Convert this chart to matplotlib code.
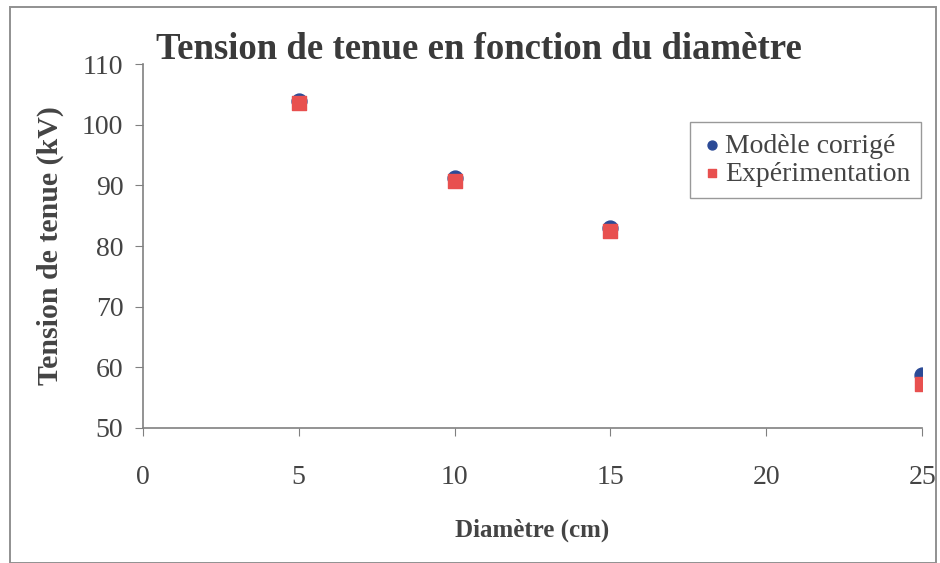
import matplotlib.pyplot as plt
from matplotlib.patches import Rectangle

diametre = [5, 10, 15, 25]
modele_corrige = [104.0, 91.3, 83.0, 58.8]
experimentation = [103.6, 90.8, 82.5, 57.3]

plt.rcParams['font.family'] = ['Liberation Serif', 'DejaVu Serif']

fig = plt.figure(figsize=(9.4, 5.63), dpi=100)
ax = fig.add_axes([0.152, 0.240, 0.829, 0.646])

ax.scatter(diametre, modele_corrige, marker='o', s=115, color='#2B4A96', label='Modèle corrigé', zorder=3)
ax.scatter(diametre, experimentation, marker='s', s=110, color='#E8504F', label='Expérimentation', zorder=4)

ax.set_xlim(0, 25)
ax.set_ylim(50, 110)
ax.set_xticks([0, 5, 10, 15, 20, 25])
ax.set_yticks([50, 60, 70, 80, 90, 100, 110])
for s in ['top', 'right']:
    ax.spines[s].set_visible(False)
for s in ['left', 'bottom']:
    ax.spines[s].set_color('#808080')
    ax.spines[s].set_linewidth(1.2)
ax.tick_params(axis='both', direction='out', length=6, color='#808080', colors='#444444')
ax.tick_params(axis='x', labelsize=20, pad=21)
ax.tick_params(axis='y', labelsize=20, pad=8)

ax.set_xlabel('Diamètre (cm)', fontsize=18, fontweight='bold', color='#444444', labelpad=20)
ax.set_ylabel('Tension de tenue (kV)', fontsize=21.5, fontweight='bold', color='#444444', labelpad=13)
fig.text(0.166, 0.912, 'Tension de tenue en fonction du diamètre', fontsize=26.5, fontweight='bold',
         color='#3a3a3a', va='center', ha='left')

leg = ax.legend(loc='upper right', bbox_to_anchor=(0.999, 0.841), fontsize=20, frameon=True,
                fancybox=False, edgecolor='#808080', handletextpad=0.05, borderpad=0.4,
                labelspacing=0.1, handlelength=0.8, borderaxespad=0, scatterpoints=1,
                markerscale=0.6)
leg.get_frame().set_linewidth(1.0)
for t in leg.get_texts():
    t.set_color('#444444')

fig.patches.append(Rectangle((0.011, 0.0), 0.985, 0.988, transform=fig.transFigure,
                             fill=False, edgecolor='#909090', linewidth=1.4))

plt.savefig('out.png', dpi=100)
